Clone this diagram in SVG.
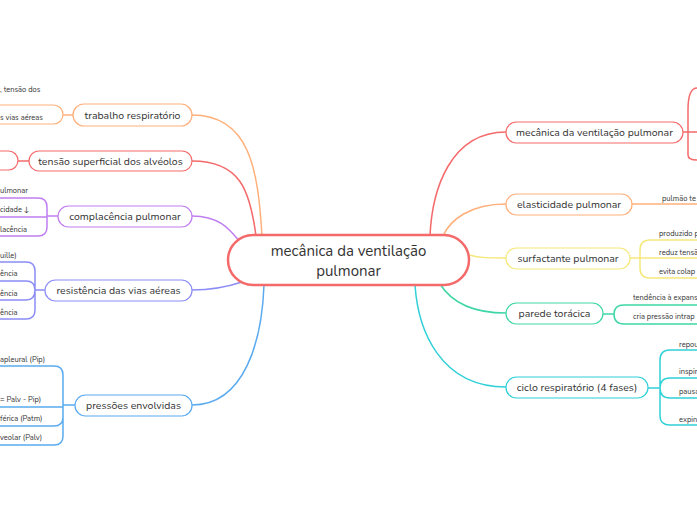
<svg xmlns="http://www.w3.org/2000/svg" width="697" height="520" viewBox="0 0 697 520">
<style>
text{font-family:"Nunito","Lato","Open Sans",sans-serif;fill:#333}
.n{font-size:10.5px;text-anchor:middle}
.s{font-size:7.5px}
.b{fill:#fff;stroke-width:1.2}
.c{fill:none;stroke-width:1.5}
</style>
<rect width="697" height="520" fill="#fff"/>
<g id="connectors">
<path class="c" stroke="#ffb07a" d="M192,115 C250,115 258,170 262,236"/>
<path class="c" stroke="#f46a6a" d="M192,161 C240,161 250,190 256,236"/>
<path class="c" stroke="#c07ef0" d="M192,216 C220,216 230,230 240,242"/>
<path class="c" stroke="#8c8cf7" d="M192,290 C215,290 230,286 242,282"/>
<path class="c" stroke="#5aaaf0" d="M192,405 C245,405 262,340 264,285"/>
<path class="c" stroke="#f46a6a" d="M506,132 C450,132 432,190 430,236"/>
<path class="c" stroke="#ffb07a" d="M506,204 C470,204 450,220 443,236"/>
<path class="c" stroke="#f5e87a" d="M506,258 C490,258 480,258 469,255"/>
<path class="c" stroke="#3ed6a6" d="M506,313 C470,313 450,300 440,284"/>
<path class="c" stroke="#2fd0d8" d="M506,387 C440,387 418,330 415,285"/>
<!-- left children -->
<path class="c" stroke="#ffb07a" d="M73,115 H63"/>
<path class="c" stroke="#f46a6a" d="M29,161 H18"/>
<path class="c" stroke="#c07ef0" d="M58,216 H47 M0,198 H38 Q47,198 47,207 V227 Q47,236 38,236 H0 M0,217 H47"/>
<path class="c" stroke="#8c8cf7" d="M45,290 H35 M0,262 H26 Q35,262 35,271 V310 Q35,319 26,319 H0 M0,281 H26 Q35,281 35,290 Q35,300 26,300 H0"/>
<path class="c" stroke="#5aaaf0" d="M75,405 H63 M0,366 H54 Q63,366 63,375 V436 Q63,445 54,445 H0 M0,407 H63 M0,426 H54 Q63,426 63,417"/>
<!-- right children -->
<path class="c" stroke="#f46a6a" d="M683,132 H697 M697,88 Q688,88 688,110 V155 Q688,160 697,160"/>
<path class="c" stroke="#ffb07a" d="M632,204 H697"/>
<path class="c" stroke="#f5e87a" d="M630,258 H640 M697,240 H650 Q640,240 640,250 V268 Q640,278 650,278 H697 M640,258 H697"/>
<path class="c" stroke="#3ed6a6" d="M603,314 H614 M697,305 H624 Q614,305 614,314 Q614,324 624,324 H697"/>
<path class="c" stroke="#2fd0d8" d="M648,388 H660 M697,350 H670 Q660,350 660,360 V416 Q660,425 670,425 H697 M697,378 H670 Q660,378 660,388 M660,388 Q660,398 670,398 H697"/>
</g>
<g id="center"><rect x="228" y="235" width="241" height="50" rx="25" fill="#fff" stroke="#f46a6a" stroke-width="2.5"/><text x="348.5" y="256" font-size="15" text-anchor="middle">mecânica da ventilação</text><text x="348.5" y="276" font-size="15" text-anchor="middle">pulmonar</text></g>
<g id="trabalho"><rect class="b" x="73" y="104" width="119" height="22" rx="11" stroke="#ffb07a"/><text class="n" x="132.5" y="119">trabalho respiratório</text></g>
<g id="trabalho-c"><text class="s" x="0" y="92">, tensão dos</text><rect class="b" x="-20" y="105" width="83" height="19" rx="9.5" stroke="#ffb07a"/><text class="s" x="0" y="120">s vias aéreas</text></g>
<g id="tensao"><rect class="b" x="29" y="151" width="163" height="20" rx="10" stroke="#f46a6a"/><text class="n" x="110.5" y="165">tensão superficial dos alvéolos</text></g>
<g id="tensao-c"><rect class="b" x="-20" y="151" width="38" height="19" rx="9.5" stroke="#f46a6a"/></g>
<g id="compl"><rect class="b" x="58" y="206" width="134" height="21" rx="10.5" stroke="#c07ef0"/><text class="n" x="125" y="220">complacência pulmonar</text></g>
<g id="compl-c"><text class="s" x="0" y="193">ulmonar</text><text class="s" x="0" y="212">cidade ↓</text><text class="s" x="0" y="232">lacência</text></g>
<g id="resist"><rect class="b" x="45" y="280" width="147" height="21" rx="10.5" stroke="#8c8cf7"/><text class="n" x="118.5" y="294">resistência das vias aéreas</text></g>
<g id="resist-c"><text class="s" x="0" y="258">uille)</text><text class="s" x="0" y="276">ência</text><text class="s" x="0" y="296">ência</text><text class="s" x="0" y="315">ência</text></g>
<g id="press"><rect class="b" x="75" y="395" width="117" height="21" rx="10.5" stroke="#5aaaf0"/><text class="n" x="133.5" y="409">pressões envolvidas</text></g>
<g id="press-c"><text class="s" x="0" y="362">apleural (Pip)</text><text class="s" x="0" y="402">= Palv - Pip)</text><text class="s" x="0" y="421">férica (Patm)</text><text class="s" x="0" y="440">veolar (Palv)</text></g>
<g id="mec"><rect class="b" x="506" y="122" width="177" height="21" rx="10.5" stroke="#f46a6a"/><text class="n" x="594.5" y="136">mecânica da ventilação pulmonar</text></g>
<g id="elast"><rect class="b" x="506" y="194" width="126" height="21" rx="10.5" stroke="#ffb07a"/><text class="n" x="569" y="208">elasticidade pulmonar</text></g>
<g id="elast-c"><text class="s" x="662" y="201">pulmão te</text></g>
<g id="surf"><rect class="b" x="506" y="248" width="124" height="21" rx="10.5" stroke="#f5e87a"/><text class="n" x="568" y="262">surfactante pulmonar</text></g>
<g id="surf-c"><text class="s" x="659" y="236">produzido p</text><text class="s" x="659" y="255">reduz tensã</text><text class="s" x="659" y="274">evita colap</text></g>
<g id="parede"><rect class="b" x="506" y="303" width="97" height="21" rx="10.5" stroke="#3ed6a6"/><text class="n" x="554.5" y="317">parede torácica</text></g>
<g id="parede-c"><text class="s" x="633" y="300">tendência à expans</text><text class="s" x="633" y="319">cria pressão intrap</text></g>
<g id="ciclo"><rect class="b" x="506" y="377" width="142" height="21" rx="10.5" stroke="#2fd0d8"/><text class="n" x="577" y="391">ciclo respiratório (4 fases)</text></g>
<g id="ciclo-c"><text class="s" x="679" y="347">repou</text><text class="s" x="679" y="374">inspir</text><text class="s" x="679" y="394">pausa</text><text class="s" x="679" y="422">expin</text></g>
</svg>
